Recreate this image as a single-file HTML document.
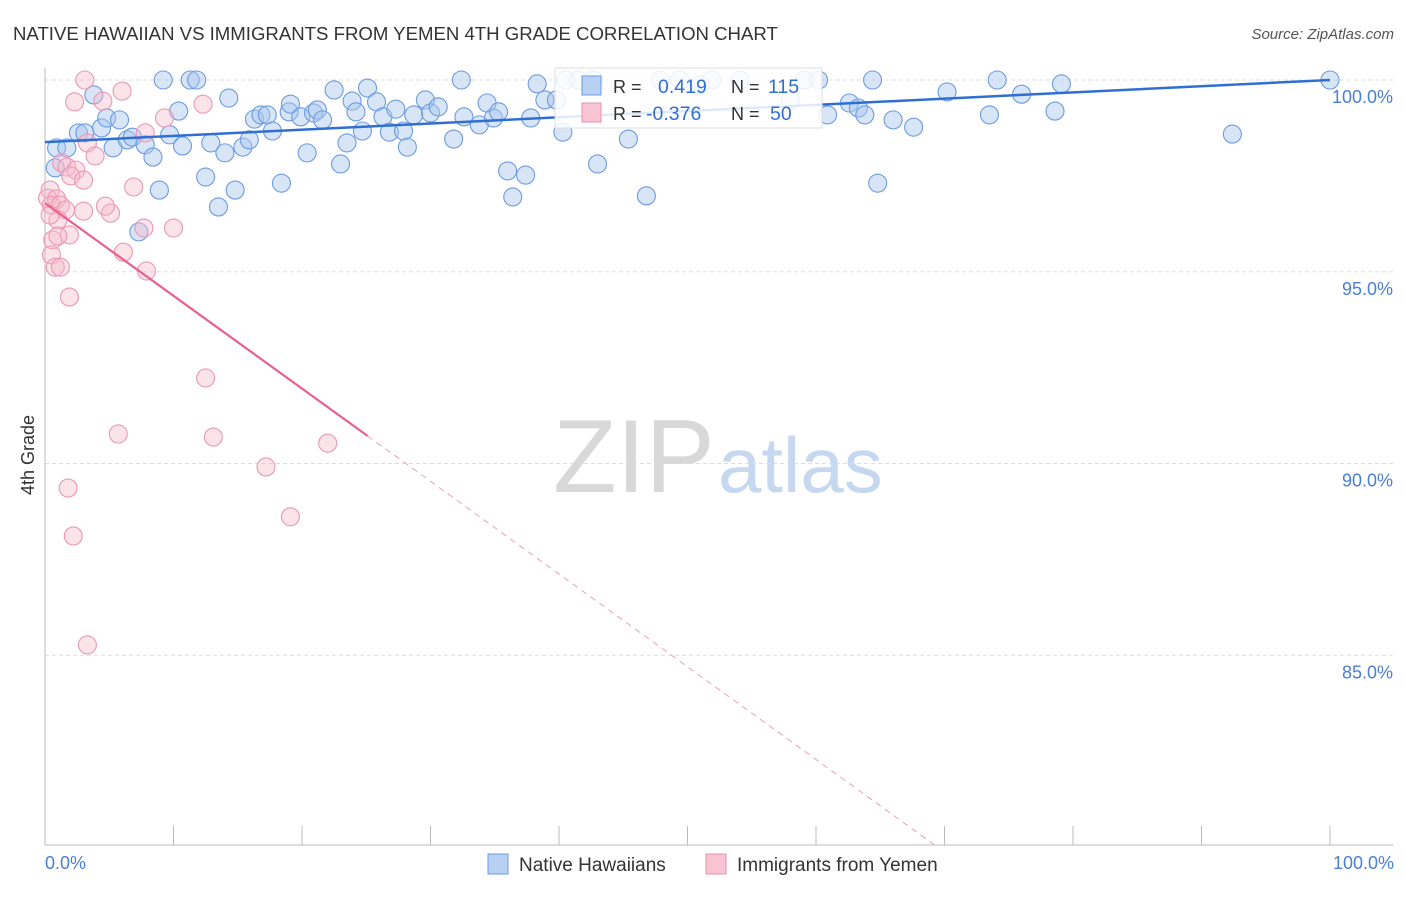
<!DOCTYPE html>
<html><head><meta charset="utf-8"><style>
body{margin:0;background:#fff;font-family:"Liberation Sans",sans-serif;}
svg text{font-family:"Liberation Sans",sans-serif;}
</style></head><body>
<svg id="chart" width="1406" height="892" viewBox="0 0 1406 892" xmlns="http://www.w3.org/2000/svg">
<text x="13" y="40" font-size="18.6" fill="#333">NATIVE HAWAIIAN VS IMMIGRANTS FROM YEMEN 4TH GRADE CORRELATION CHART</text>
<text x="1394" y="39" font-size="15" fill="#555" font-style="italic" text-anchor="end">Source: ZipAtlas.com</text>
<g>
<text x="553" y="492" font-size="104" fill="#d8d8d8" font-family="Liberation Serif,serif">ZIP</text>
<text x="718" y="492" font-size="78" fill="#c5d8ef">atlas</text>
</g>
<g id="grid"></g>
<g id="axes"></g>
<g id="pts"></g>
<g id="lines"></g>
<text x="34" y="455" font-size="18" fill="#333" text-anchor="middle" transform="rotate(-90 34 455)">4th Grade</text>
<text x="45" y="869" font-size="18" fill="#4a7fd6">0.0%</text>
<text x="1394" y="869" font-size="18" fill="#4a7fd6" text-anchor="end">100.0%</text>
<g>
<rect x="555" y="68" width="267" height="60" fill="#fff" fill-opacity="0.85" stroke="#ddd"/>
<rect x="582" y="76" width="19" height="19" fill="#b8d0f2" stroke="#6b9be0"/>
<text x="613" y="93" font-size="18" fill="#333">R = </text>
<text x="658" y="93" font-size="19.5" fill="#2f6fd4">0.419</text>
<text x="731" y="93" font-size="18" fill="#333">N = </text>
<text x="768" y="93" font-size="19.5" fill="#2f6fd4">115</text>
<rect x="582" y="103" width="19" height="19" fill="#f8c4d3" stroke="#eb8fae"/>
<text x="613" y="120" font-size="18" fill="#333">R = </text>
<text x="646" y="120" font-size="19.5" fill="#2f6fd4">-0.376</text>
<text x="731" y="120" font-size="18" fill="#333">N = </text>
<text x="770" y="120" font-size="19.5" fill="#2f6fd4">50</text>
</g>
<g>
<rect x="488" y="854" width="20" height="20" fill="#b8d0f2" stroke="#6b9be0"/>
<text x="519" y="871" font-size="19" fill="#333">Native Hawaiians</text>
<rect x="706" y="854" width="20" height="20" fill="#f8c4d3" stroke="#eb8fae"/>
<text x="737" y="871" font-size="19" fill="#333">Immigrants from Yemen</text>
</g>
</svg>
<script>
const yTicks=[100,95,90,85];
const yTickLabels=["100.0%","95.0%","90.0%","85.0%"];
const xTicks=[0,10,20,30,40,50,60,70,80,90,100];
const blueX=[9.2,11.3,11.8,0.9,0.8,1.7,2.6,3.1,3.8,4.4,4.8,5.3,5.8,6.4,6.8,7.3,7.8,8.4,8.9,9.7,10.4,10.7,12.5,12.9,13.5,14.0,14.3,14.8,15.4,15.9,16.3,16.8,17.3,17.7,18.4,19.0,19.1,19.9,20.4,20.9,21.2,21.6,22.5,23.0,23.5,23.9,24.2,24.7,25.1,25.8,26.3,26.8,27.3,27.9,28.2,28.7,29.6,30.0,30.6,31.8,32.4,32.6,33.8,34.4,34.9,35.3,36.0,36.4,37.4,37.8,38.3,38.9,39.8,40.3,41.5,42.7,43.0,45.4,46.8,47.9,49.4,51.0,51.9,54.1,58.0,59.1,60.2,60.9,62.6,63.3,63.8,64.4,64.8,66.0,67.6,70.2,74.1,73.5,76.0,78.6,79.1,92.4,100,40.5];
const blueY=[100,100,100,98.23,97.71,98.23,98.62,98.62,99.61,98.75,99.01,98.23,98.96,98.44,98.51,96.04,98.31,97.99,97.13,98.57,99.19,98.28,97.47,98.36,96.69,98.10,99.53,97.13,98.25,98.44,98.98,99.09,99.09,98.67,97.31,99.17,99.37,99.04,98.10,99.14,99.22,98.96,99.74,97.81,98.36,99.45,99.17,98.67,99.79,99.43,99.04,98.64,99.24,98.67,98.25,99.09,99.48,99.14,99.30,98.46,100,99.04,98.83,99.40,99.01,99.17,97.63,96.95,97.52,99.01,99.90,99.48,99.48,98.64,100,100,97.81,98.46,96.98,100,100,99.87,100,100,99.48,100,100,99.09,99.40,99.27,99.09,100,97.31,98.96,98.77,99.69,100,99.09,99.63,99.19,99.90,98.59,100,100];
const pinkX=[3.1,6.0,2.3,4.5,12.3,9.3,7.8,3.3,3.9,1.3,1.7,2.4,2.0,3.0,6.9,0.4,0.2,0.9,0.5,1.2,1.6,3.0,5.1,4.7,7.7,10.0,1.0,1.9,0.6,1.0,6.1,0.5,0.8,1.2,7.9,1.9,12.5,5.7,13.1,17.2,22.0,1.8,19.1,2.2,3.3,0.4];
const pinkY=[100,99.71,99.43,99.45,99.37,99.01,98.62,98.36,98.02,97.84,97.73,97.65,97.50,97.39,97.21,97.13,96.92,96.90,96.74,96.74,96.61,96.58,96.53,96.71,96.14,96.14,96.35,95.96,95.83,95.93,95.51,95.44,95.12,95.12,95.02,94.34,92.23,90.77,90.69,89.91,90.53,89.36,88.61,88.11,85.27,96.48];
const blueTrend=[98.38,100];
const pinkTrend=[96.79,-0.2418];
const pinkSolidEnd=25.1, pinkDashEnd=69.3;

const NS="http://www.w3.org/2000/svg";
const X0=45,X1=1330,YTOP=80,PXPER=38.35;
const sx=v=>X0+(X1-X0)*v/100;
const sy=v=>YTOP+(100-v)*PXPER;
function mk(tag,attrs,parent){const e=document.createElementNS(NS,tag);for(const k in attrs)e.setAttribute(k,attrs[k]);parent.appendChild(e);return e;}
const grid=document.getElementById('grid'),axes=document.getElementById('axes'),pts=document.getElementById('pts'),lines=document.getElementById('lines');
yTicks.forEach((t,i)=>{
  const l=mk('line',{x1:45,x2:1393,y1:sy(t),y2:sy(t),stroke:'#ddd','stroke-dasharray':'4 3'},grid);
  
  
  const tx=mk('text',{x:1393,y:sy(t)+23,'font-size':18,fill:'#4a7fd6','text-anchor':'end'},grid);
  tx.textContent=yTickLabels[i];
  
  
});
const ya=mk('line',{x1:45,x2:45,y1:68,y2:845,stroke:'#bbb'},axes);


const xa=mk('line',{x1:45,x2:1393,y1:845,y2:845,stroke:'#bbb'},axes);


xTicks.forEach(t=>{
  const l=mk('line',{x1:sx(t),x2:sx(t),y1:826,y2:845,stroke:'#bbb'},axes);
  
  
});
blueX.forEach((v,i)=>{
  const c=mk('circle',{cx:sx(v),cy:sy(blueY[i]),r:9,fill:'#a9c6ee','fill-opacity':0.45,stroke:'#6b9be0','stroke-width':1.1},pts);
  
  
});
pinkX.forEach((v,i)=>{
  const c=mk('circle',{cx:sx(v),cy:sy(pinkY[i]),r:9,fill:'#f6b8cb','fill-opacity':0.4,stroke:'#eb97b4','stroke-width':1.1},pts);
  
  
});
const bl=mk('line',{x1:sx(0),y1:sy(blueTrend[0]),x2:sx(100),y2:sy(blueTrend[1]),stroke:'#2f6fd4','stroke-width':2.5},lines);


const pf=x=>pinkTrend[0]+pinkTrend[1]*x;
const pl=mk('line',{x1:sx(0),y1:sy(pf(0)),x2:sx(pinkSolidEnd),y2:sy(pf(pinkSolidEnd)),stroke:'#e8608f','stroke-width':2.2},lines);


const pd=mk('line',{x1:sx(pinkSolidEnd),y1:sy(pf(pinkSolidEnd)),x2:sx(pinkDashEnd),y2:sy(pf(pinkDashEnd)),stroke:'#e8a0b8','stroke-width':1,'stroke-dasharray':'6 5'},lines);


</script>
</body></html>
